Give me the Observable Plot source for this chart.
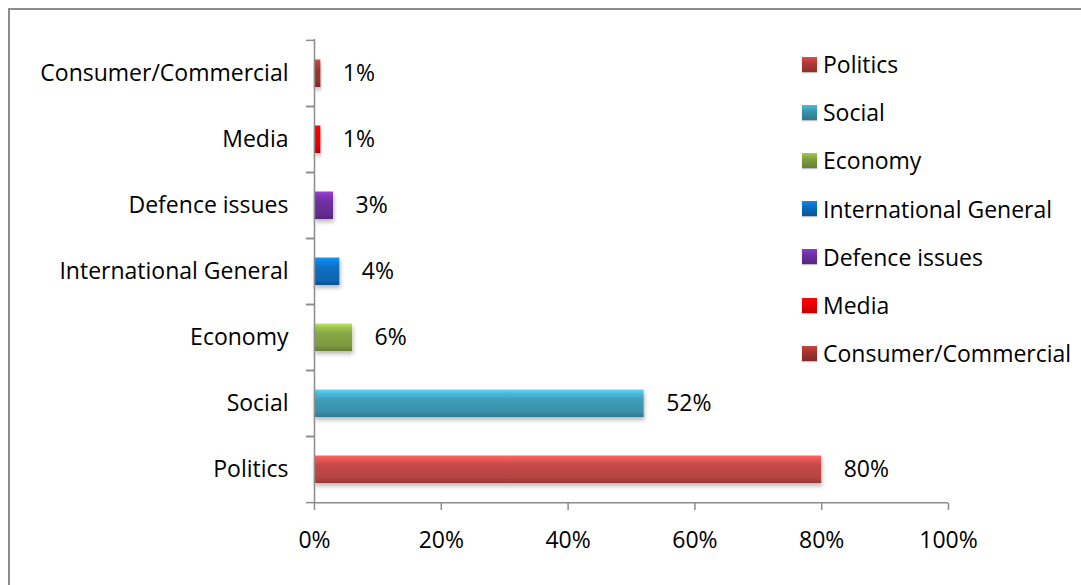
<!DOCTYPE html>
<html><head><meta charset="utf-8">
<script src="https://cdn.jsdelivr.net/npm/d3@7"></script>
<script src="https://cdn.jsdelivr.net/npm/@observablehq/plot@0.6"></script>
<style>
body{margin:0;background:#fff;overflow:hidden;font-family:"Open Sans", sans-serif;}
#wrap{position:relative;width:1081px;height:585px;overflow:hidden;background:#fff;}
#border{position:absolute;left:8px;top:8px;width:1200px;height:700px;border:2px solid #8c8c8c;}
#chart{position:absolute;left:0;top:0;}
#legend{position:absolute;left:802px;top:40px;}
.item{display:flex;align-items:center;height:48.2px;font-size:23px;color:#000;white-space:nowrap;}
.sw{width:15px;height:15px;margin-right:6px;box-shadow:0 1px 1px rgba(0,0,0,0.25);}
</style></head><body><div id="wrap"><div id="border"></div><div id="chart"></div><div id="legend"></div></div>
<script>
const categories = ["Politics","Social","Economy","International General","Defence issues","Media","Consumer/Commercial"];
const values = [0.80,0.52,0.06,0.04,0.03,0.01,0.01];
const labels = ["80%","52%","6%","4%","3%","1%","1%"];
const colors = ["#c64a48","#3f9fbb","#87a845","#0b70c3","#7030a0","#f00000","#a3342f"];
const legendColors = ["#b23a38","#3a95ad","#7e9e3e","#0b6bbb","#6c30a0","#ee0000","#a3342f"];
const xTicks = [0,0.2,0.4,0.6,0.8,1];

const data = categories.map((c,i)=>({category:c, value:values[i], label:labels[i], i}));
const W = 1081, H = 585, mT = 39, mB = 82, mL = 314, mR = 133;
const step = (H - mT - mB) / categories.length;
const FS = 23;

const chart = Plot.plot({
  width: W, height: H,
  marginTop: mT, marginBottom: mB, marginLeft: mL, marginRight: mR,
  style: {fontFamily: "'Open Sans', sans-serif", fontSize: FS + "px", color: "#000", background: "transparent"},
  x: {domain: [0,1], label: null},
  y: {domain: categories.slice().reverse(), padding: 0, label: null},
  color: {type: "identity"},
  marks: [
    Plot.barX(data, {x: "value", y: "category", fill: d => `url(#g${d.i})`, insetTop: 19.5, insetBottom: 19}),
    Plot.text(data, {x: "value", y: "category", text: "label", textAnchor: "start", dx: 22, fontSize: FS, fill: "#000"}),
    Plot.axisY({tickSize: 0, tickPadding: 26, fontSize: FS, fill: "#000", label: null}),
    Plot.axisY({tickSize: 8, text: null, dy: -step/2, stroke: "#8c8c8c", strokeWidth: 1.5, label: null}),
    Plot.axisY({tickSize: 8, text: null, dy: step/2, stroke: "#8c8c8c", strokeWidth: 1.5, label: null}),
    Plot.ruleX([0], {stroke: "#8c8c8c", strokeWidth: 1.5}),
    Plot.ruleY(["Politics"], {y: d => d, x1: 0, x2: 1, dy: step/2, stroke: "#8c8c8c", strokeWidth: 1.5}),
    Plot.axisX({ticks: xTicks, tickFormat: d3.format(".0%"), tickSize: 7, tickPadding: 21, stroke: "#8c8c8c", strokeWidth: 1.5, fontSize: FS, fill: "#000", label: null})
  ]
});
document.getElementById("chart").appendChild(chart);

const svg = chart.tagName.toLowerCase() === "svg" ? chart : chart.querySelector("svg");
const defs = d3.select(svg).insert("defs", ":first-child");
const f = defs.append("filter").attr("id","shadow").attr("x","-10%").attr("y","-30%").attr("width","130%").attr("height","200%");
f.append("feDropShadow").attr("dx",1).attr("dy",3).attr("stdDeviation",2).attr("flood-color","#000").attr("flood-opacity",0.28);
colors.forEach((c,i)=>{
  const base = d3.color(c);
  const g = defs.append("linearGradient").attr("id","g"+i).attr("x1",0).attr("y1",0).attr("x2",0).attr("y2",1);
  [[0, base.brighter(0.9)],[0.14, base.brighter(0.45)],[0.35, base],[0.8, base.darker(0.25)],[1, base.darker(0.8)]]
    .forEach(([o,col])=> g.append("stop").attr("offset",o).attr("stop-color", col.formatHex()));
});
d3.select(svg).selectAll("g[aria-label='bar'] rect").attr("filter","url(#shadow)");

const leg = d3.select("#legend");
categories.forEach((c,i)=>{
  const it = leg.append("div").attr("class","item");
  const b = d3.color(legendColors[i]);
  it.append("div").attr("class","sw").style("background",
    `linear-gradient(to bottom, ${b.brighter(0.7).formatHex()} 0%, ${b.formatHex()} 40%, ${b.darker(0.6).formatHex()} 100%)`);
  it.append("span").text(c);
});
</script></body></html>
